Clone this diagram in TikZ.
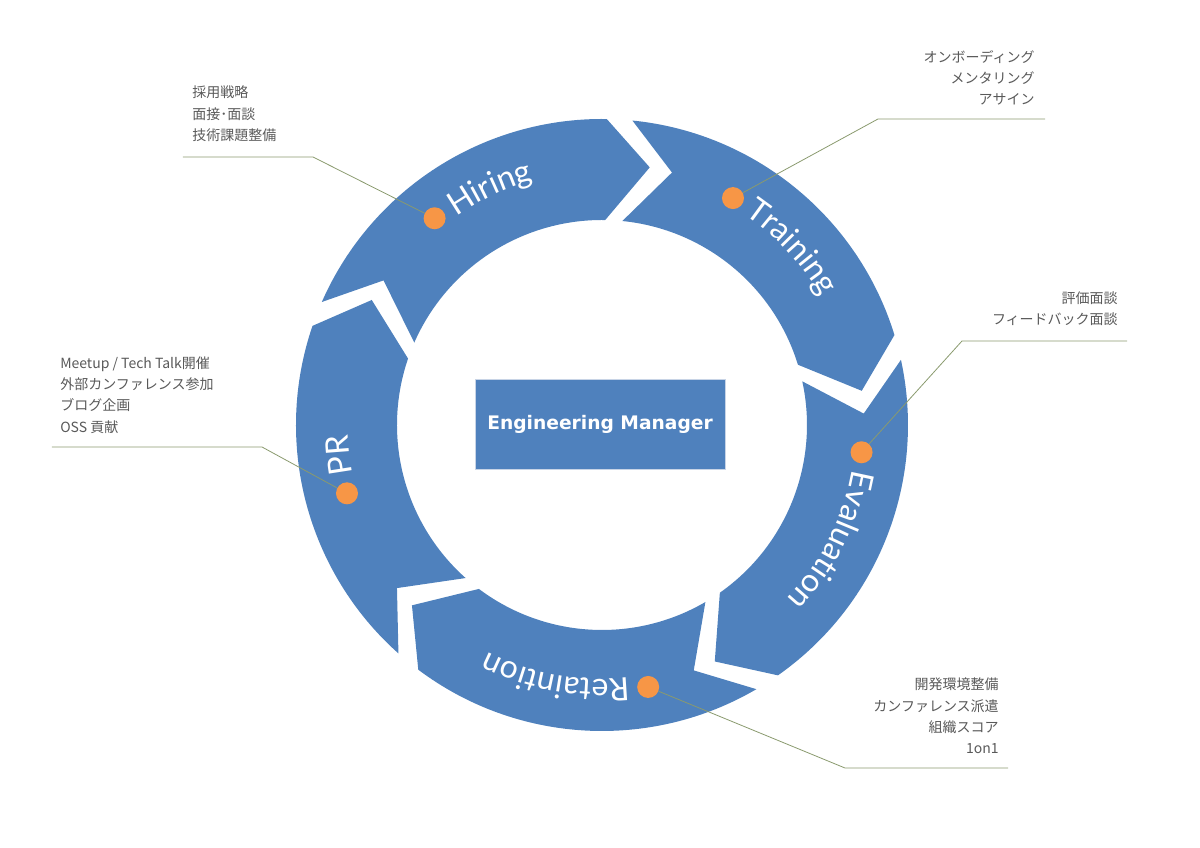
\documentclass[tikz,border=0pt]{standalone}
\usepackage{fontspec}
\usepackage{tikz}
\usetikzlibrary{decorations.text}
\newfontfamily\latofont{Lato}
\newfontfamily\jpfont{Noto Sans CJK JP}
\newfontfamily\boxfont{DejaVu Sans}
\definecolor{ringblue}{HTML}{4F81BD}
\definecolor{dotorange}{HTML}{F79646}
\definecolor{notegray}{HTML}{595959}
\definecolor{leadgreen}{HTML}{8A9A6E}
\tikzset{
  ring/.style={fill=ringblue},
  dot/.style={circle, fill=dotorange, minimum size=16.5pt, inner sep=0pt},
  note/.style={font=\jpfont\fontsize{10.5}{16}\selectfont, text=notegray, inner sep=0pt},
  leader/.style={draw=leadgreen, line width=0.6pt},
  seglabel/.style={decorate, decoration={text along path, text color=white}},
}
\newcommand{\segfont}{\latofont\fontsize{24}{24}\selectfont}

\begin{document}
\begin{tikzpicture}[x=0.75pt, y=0.75pt]
\useasboundingbox (-602,-423) rectangle (598,425);

% cycle arrows
\foreach \t in {156.3, 84.3, 12.3, -59.7, -131.7} {
  \pgfmathsetmacro{\h}{\t-67.2}
  \fill[ring] (\t:306) arc[start angle=\t, end angle=\h, radius=306]
    -- (\h-9.6:262) -- (\h:205) arc[start angle=\h, end angle=\t, radius=205]
    -- (\t-9.8:262) -- cycle;
}

\node[fill=ringblue, draw={rgb,255:red,200;green,212;blue,230}, minimum width=187.5pt, minimum height=67.5pt,
  text=white, font=\boxfont\bfseries\fontsize{14}{16}\selectfont] (em) at (-2,1) {Engineering Manager};

% labels on the ring
\segfont
\path[seglabel, decoration={text=Hiring}] (125:254) arc[start angle=125, end angle=60, radius=254];
\path[seglabel, decoration={text=Training}] (56:254) arc[start angle=56, end angle=-10, radius=254];
\path[seglabel, decoration={text=Evaluation}] (-10:254) arc[start angle=-10, end angle=-76, radius=254];
\path[seglabel, decoration={text=Retaintion}] (-84:254) arc[start angle=-84, end angle=-150, radius=254];
\path[seglabel, decoration={text=PR}] (191:254) arc[start angle=191, end angle=140, radius=254];

\node[dot] (hdot) at (129:266) {};
\node[dot] (tdot) at (60:262) {};
\node[dot] (edot) at (-6:261) {};
\node[dot] (rdot) at (-80:266) {};
\node[dot] (pdot) at (195:264) {};

% notes
\node[note, anchor=west, align=left] (hnote) at (-410,311) {採用戦略\\面接･面談\\技術課題整備};
\node[note, anchor=east, align=right] (tnote) at (433,347) {オンボーディング\\メンタリング\\アサイン};
\node[note, anchor=east, align=right] (enote) at (516,116) {評価面談\\フィードバック面談};
\node[note, anchor=east, align=right] (rnote) at (397,-291) {開発環境整備\\カンファレンス派遣\\組織スコア\\1on1};
\node[note, anchor=west, align=left] (pnote) at (-542,30) {Meetup / Tech Talk開催\\外部カンファレンス参加\\ブログ企画\\OSS 貢献};

\coordinate (hbend) at (-289,268);
\coordinate (hend) at (-419,268);
\coordinate (tbend) at (276,306);
\coordinate (tend) at (443,306);
\coordinate (ebend) at (360,84);
\coordinate (eend) at (525,84);
\coordinate (rbend) at (243,-343);
\coordinate (rend) at (406,-343);
\coordinate (pbend) at (-340,-22);
\coordinate (pend) at (-550,-22);

\draw[leader] (hdot) -- (hbend) -- (hend);
\draw[leader] (tdot) -- (tbend) -- (tend);
\draw[leader] (edot) -- (ebend) -- (eend);
\draw[leader] (rdot) -- (rbend) -- (rend);
\draw[leader] (pdot) -- (pbend) -- (pend);
\end{tikzpicture}
\end{document}
